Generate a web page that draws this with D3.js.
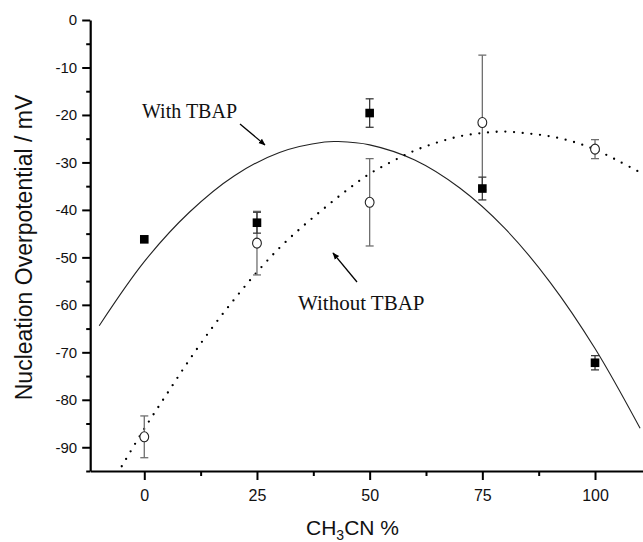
<!DOCTYPE html>
<html>
<head>
<meta charset="utf-8">
<script src="https://cdn.jsdelivr.net/npm/d3@7"></script>
<style>
  html, body { margin: 0; padding: 0; background: #fff; }
  svg { display: block; }
</style>
</head>
<body>
<script>
// Measured points: CH3CN content (%) vs nucleation overpotential (mV)
const xCats = [0, 25, 50, 75, 100];
const withTBAP = [-46.2, -42.7, -19.6, -35.5, -72.2];
const withTBAPErr = [0, 2.2, 3.0, 2.4, 1.5];
const withoutTBAP = [-87.8, -47.0, -38.4, -21.6, -27.2];
const withoutTBAPErr = [4.4, 6.7, 9.2, 14.2, 2.0];

// Fitted trend lines, sampled along x
const fitWithX = [-10, 0, 10, 20, 30, 40, 43, 50, 60, 70, 80, 90, 100, 110];
const fitWithY = [-64.4, -50.9, -40.5, -32.8, -27.9, -25.7, -25.6, -26.3, -29.5, -35.4, -43.9, -55.2, -69.2, -86.0];
const fitWithoutX = [-5, 0, 5, 10, 15, 20, 25, 30, 35, 40, 45, 50, 55, 60, 65, 70, 75, 80, 85, 90, 95, 100, 105, 110];
const fitWithoutY = [-94.0, -86.1, -78.8, -71.6, -64.9, -58.8, -53.1, -48.0, -43.6, -39.6, -35.8, -32.4, -29.8, -27.5, -25.8, -24.5, -23.8, -23.5, -23.9, -24.5, -25.6, -27.3, -29.6, -32.1];

// Axis ticks
const xTicks = [0, 25, 50, 75, 100];
const xMinorTicks = [12.5, 37.5, 62.5, 87.5];
const yTicks = [0, -10, -20, -30, -40, -50, -60, -70, -80, -90];
const yMinorTicks = [-5, -15, -25, -35, -45, -55, -65, -75, -85, -95];

const W = 643, H = 542;
const svg = d3.select("body").append("svg").attr("width", W).attr("height", H);

const x = d3.scaleLinear().domain([-12, 111]).range([90.2, 644.6]);
const y = d3.scaleLinear().domain([-95, 0]).range([471, 20]);

const sans = "'Liberation Sans', Arial, sans-serif";
const serif = "'Liberation Serif', 'Times New Roman', serif";

// Fit curves
const line = d3.line().x(d => x(d[0])).y(d => y(d[1])).curve(d3.curveCatmullRom.alpha(0.5));

svg.append("path")
  .datum(d3.zip(fitWithX, fitWithY))
  .attr("d", line)
  .attr("fill", "none")
  .attr("stroke", "#222")
  .attr("stroke-width", 1.1);

svg.append("path")
  .datum(d3.zip(fitWithoutX, fitWithoutY))
  .attr("d", line)
  .attr("fill", "none")
  .attr("stroke", "#000")
  .attr("stroke-width", 2.3)
  .attr("stroke-linecap", "round")
  .attr("stroke-dasharray", "0,8.7");

// Error bars
function errorBars(vals, errs, color) {
  const g = svg.append("g").attr("stroke", color).attr("stroke-width", 1.3);
  xCats.forEach((c, i) => {
    const e = errs[i];
    if (!e) return;
    const cx = x(c), y1 = y(vals[i] + e), y2 = y(vals[i] - e);
    g.append("line").attr("x1", cx).attr("x2", cx).attr("y1", y1).attr("y2", y2);
    g.append("line").attr("x1", cx - 4).attr("x2", cx + 4).attr("y1", y1).attr("y2", y1);
    g.append("line").attr("x1", cx - 4).attr("x2", cx + 4).attr("y1", y2).attr("y2", y2);
  });
}
errorBars(withoutTBAP, withoutTBAPErr, "#6f6f6f");
errorBars(withTBAP, withTBAPErr, "#3a3a3a");

// Markers
svg.append("g").selectAll("rect")
  .data(d3.zip(xCats, withTBAP))
  .join("rect")
  .attr("x", d => x(d[0]) - 4.3)
  .attr("y", d => y(d[1]) - 4.3)
  .attr("width", 8.6)
  .attr("height", 8.6)
  .attr("fill", "#000");

svg.append("g").selectAll("ellipse")
  .data(d3.zip(xCats, withoutTBAP))
  .join("ellipse")
  .attr("cx", d => x(d[0]))
  .attr("cy", d => y(d[1]))
  .attr("rx", 4.4)
  .attr("ry", 5)
  .attr("fill", "#fff")
  .attr("stroke", "#222")
  .attr("stroke-width", 1.1);

// Axes
const yAxis = svg.append("g").attr("transform", "translate(90.2,0)");
yAxis.call(d3.axisLeft(y).tickValues(yTicks).tickSize(8).tickSizeOuter(0).tickPadding(5)
  .tickFormat(d => String(d)));
yAxis.append("g").call(d3.axisLeft(y).tickValues(yMinorTicks).tickSize(4).tickFormat(""))
  .select(".domain").remove();

const xAxis = svg.append("g").attr("transform", "translate(0,471)");
xAxis.call(d3.axisBottom(x).tickValues(xTicks).tickSize(9).tickSizeOuter(0).tickPadding(10)
  .tickFormat(d => String(d)));
xAxis.append("g").call(d3.axisBottom(x).tickValues(xMinorTicks).tickSize(5).tickFormat(""))
  .select(".domain").remove();

svg.selectAll(".domain").attr("stroke", "#000").attr("stroke-width", 2.2);
svg.selectAll(".tick line").attr("stroke", "#000").attr("stroke-width", 2);
yAxis.selectAll(".tick text").attr("font-family", sans).attr("font-size", 15).attr("fill", "#111");
xAxis.selectAll(".tick text").attr("font-family", sans).attr("font-size", 16).attr("fill", "#111");

// Axis titles
svg.append("text")
  .attr("transform", "translate(32,247.5) rotate(-90)")
  .attr("text-anchor", "middle")
  .attr("font-family", sans)
  .attr("font-size", 23)
  .attr("fill", "#111")
  .text("Nucleation Overpotential / mV");

const xt = svg.append("text")
  .attr("x", 306)
  .attr("y", 535)
  .attr("font-family", sans)
  .attr("font-size", 21)
  .attr("fill", "#111");
xt.append("tspan").text("CH");
xt.append("tspan").attr("font-size", 14).attr("dy", 5).text("3");
xt.append("tspan").attr("dy", -5).text("CN %");

// Annotations
svg.append("defs").append("marker")
  .attr("id", "head")
  .attr("viewBox", "0 0 10 10")
  .attr("refX", 9).attr("refY", 5)
  .attr("markerWidth", 7).attr("markerHeight", 7)
  .attr("markerUnits", "userSpaceOnUse")
  .attr("orient", "auto")
  .append("path").attr("d", "M0,1 L10,5 L0,9 z").attr("fill", "#000");

svg.append("text")
  .attr("x", 237).attr("y", 118)
  .attr("text-anchor", "end")
  .attr("font-family", serif).attr("font-size", 20).attr("fill", "#111")
  .text("With TBAP");
svg.append("line")
  .attr("x1", 240).attr("y1", 124).attr("x2", 265).attr("y2", 145)
  .attr("stroke", "#000").attr("stroke-width", 1.3)
  .attr("marker-end", "url(#head)");

svg.append("text")
  .attr("x", 298).attr("y", 310)
  .attr("font-family", serif).attr("font-size", 21).attr("fill", "#111")
  .text("Without TBAP");
svg.append("line")
  .attr("x1", 357).attr("y1", 282).attr("x2", 333).attr("y2", 253)
  .attr("stroke", "#000").attr("stroke-width", 1.3)
  .attr("marker-end", "url(#head)");
</script>
</body>
</html>
